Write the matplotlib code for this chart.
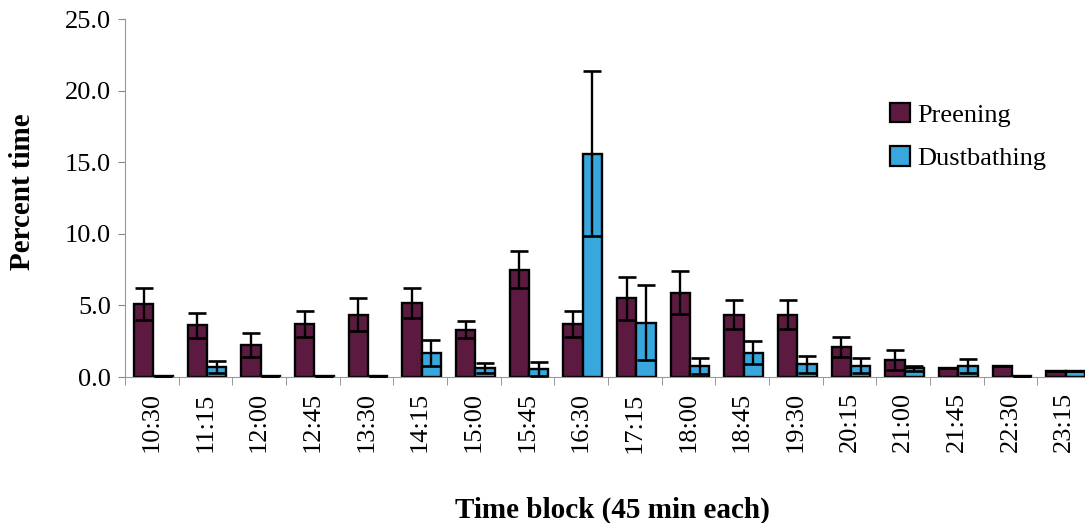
import numpy as np
import matplotlib
matplotlib.use('Agg')
import matplotlib.pyplot as plt
from matplotlib.patches import Patch

# Données
times = ['10:30', '11:15', '12:00', '12:45', '13:30', '14:15', '15:00', '15:45', '16:30',
         '17:15', '18:00', '18:45', '19:30', '20:15', '21:00', '21:45', '22:30', '23:15']
preening = [5.1, 3.6, 2.25, 3.7, 4.35, 5.15, 3.3, 7.5, 3.7,
            5.5, 5.9, 4.35, 4.35, 2.1, 1.2, 0.6, 0.75, 0.45]
preening_err = [1.1, 0.9, 0.85, 0.9, 1.15, 1.05, 0.6, 1.3, 0.9,
                1.5, 1.5, 1.0, 1.0, 0.7, 0.7, 0.0, 0.0, 0.0]
dustbathing = [0.05, 0.7, 0.05, 0.05, 0.05, 1.65, 0.65, 0.55, 15.6,
               3.8, 0.75, 1.7, 0.9, 0.8, 0.6, 0.75, 0.1, 0.45]
dustbathing_err = [0.0, 0.45, 0.0, 0.0, 0.0, 0.9, 0.35, 0.5, 5.75,
                   2.6, 0.55, 0.8, 0.6, 0.5, 0.15, 0.5, 0.0, 0.0]

col_preen = '#5c1a40'
col_dust = '#38a7dd'

plt.rcParams['font.family'] = ['Liberation Serif', 'DejaVu Serif']

fig = plt.figure(figsize=(10.85, 5.23), dpi=100)
ax = fig.add_axes([125 / 1085, 1 - 377 / 523, (1085 - 125) / 1085, (377 - 19) / 523])

x = np.arange(len(times))
w = 0.36
ax.bar(x - w / 2 + 0.03, preening, w, color=col_preen, edgecolor='black', linewidth=1.7, zorder=2)
ax.bar(x + w / 2 + 0.03, dustbathing, w, color=col_dust, edgecolor='black', linewidth=1.7, zorder=2)
ax.errorbar(x - w / 2 + 0.03, preening, yerr=preening_err, fmt='none', ecolor='black',
            elinewidth=1.7, capsize=6.5, capthick=1.9, zorder=3)
ax.errorbar(x + w / 2 + 0.03, dustbathing, yerr=dustbathing_err, fmt='none', ecolor='black',
            elinewidth=1.7, capsize=6.5, capthick=1.9, zorder=3)

ax.set_xlim(-0.5, 17.5 - 6 / 53.6)
ax.set_ylim(0, 25)
ax.set_yticks(np.arange(0, 25.1, 5))
ax.set_yticklabels([f'{v:.1f}' for v in np.arange(0, 25.1, 5)], fontsize=19)
ax.set_xticks(x)
ax.set_xticklabels(times, rotation=90, fontsize=19)
ax.set_xticks(np.arange(-0.5, 17.5, 1), minor=True)
ax.tick_params(axis='x', which='major', length=0, pad=11)
ax.tick_params(axis='x', which='minor', length=6, color='#888888')
ax.tick_params(axis='y', length=5, color='#888888', pad=5)

for s in ['top', 'right']:
    ax.spines[s].set_visible(False)
ax.spines['left'].set_color('#999999')
ax.spines['bottom'].set_color('#999999')

fig.text(23 / 1085, 1 - 192 / 523, 'Percent time', rotation=90, ha='center', va='center',
         fontsize=21, fontweight='bold')
fig.text(612 / 1085, 1 - 510 / 523, 'Time block (45 min each)', ha='center', va='center',
         fontsize=21, fontweight='bold')

handles = [Patch(facecolor=col_preen, edgecolor='black', linewidth=1.6),
           Patch(facecolor=col_dust, edgecolor='black', linewidth=1.6)]
fig.legend(handles, ['Preening', 'Dustbathing'], loc='upper left',
           bbox_to_anchor=(866 / 1085, 1 - 79 / 523), frameon=False, fontsize=19,
           handlelength=0.75, handleheight=0.75, handletextpad=0.3, labelspacing=0.75)

fig.savefig('out.png', dpi=100)
plt.close(fig)
